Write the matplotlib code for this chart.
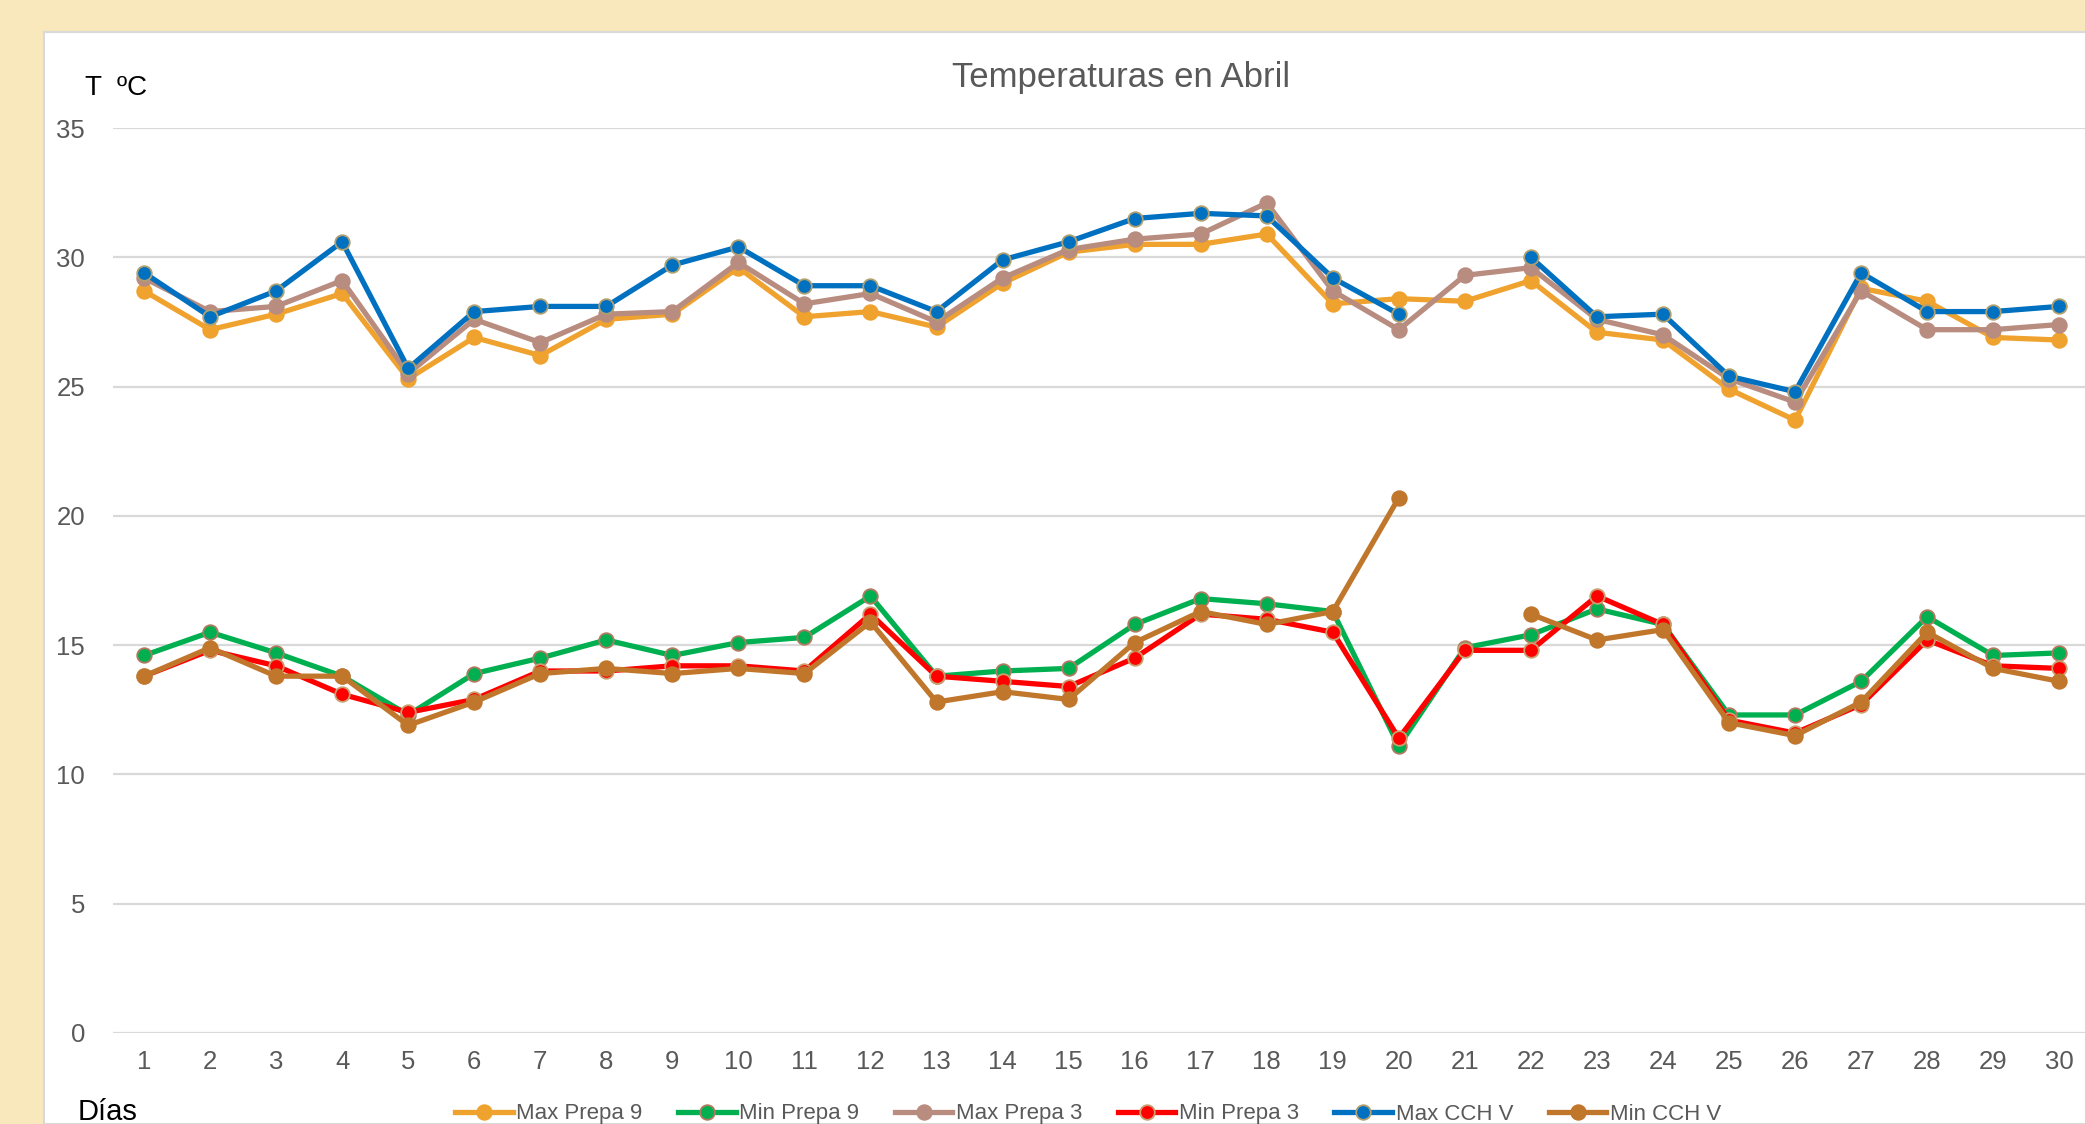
import matplotlib.pyplot as plt
import matplotlib.patches as patches
import numpy as np

nan = np.nan
dias = list(range(1, 31))

max_prepa9 = [28.7, 27.2, 27.8, 28.6, 25.3, 26.9, 26.2, 27.6, 27.8, 29.6,
              27.7, 27.9, 27.3, 29.0, 30.2, 30.5, 30.5, 30.9, 28.2, 28.4,
              28.3, 29.1, 27.1, 26.8, 24.9, 23.7, 28.8, 28.3, 26.9, 26.8]
min_prepa9 = [14.6, 15.5, 14.7, 13.8, 12.3, 13.9, 14.5, 15.2, 14.6, 15.1,
              15.3, 16.9, 13.8, 14.0, 14.1, 15.8, 16.8, 16.6, 16.3, 11.1,
              14.9, 15.4, 16.4, 15.8, 12.3, 12.3, 13.6, 16.1, 14.6, 14.7]
max_prepa3 = [29.2, 27.9, 28.1, 29.1, 25.5, 27.6, 26.7, 27.8, 27.9, 29.8,
              28.2, 28.6, 27.5, 29.2, 30.3, 30.7, 30.9, 32.1, 28.7, 27.2,
              29.3, 29.6, 27.6, 27.0, 25.3, 24.4, 28.7, 27.2, 27.2, 27.4]
min_prepa3 = [13.8, 14.8, 14.2, 13.1, 12.4, 12.9, 14.0, 14.0, 14.2, 14.2,
              14.0, 16.2, 13.8, 13.6, 13.4, 14.5, 16.2, 16.0, 15.5, 11.4,
              14.8, 14.8, 16.9, 15.8, 12.1, 11.6, 12.7, 15.2, 14.2, 14.1]
max_cchv = [29.4, 27.7, 28.7, 30.6, 25.7, 27.9, 28.1, 28.1, 29.7, 30.4,
            28.9, 28.9, 27.9, 29.9, 30.6, 31.5, 31.7, 31.6, 29.2, 27.8,
            nan, 30.0, 27.7, 27.8, 25.4, 24.8, 29.4, 27.9, 27.9, 28.1]
min_cchv = [13.8, 14.9, 13.8, 13.8, 11.9, 12.8, 13.9, 14.1, 13.9, 14.1,
            13.9, 15.9, 12.8, 13.2, 12.9, 15.1, 16.3, 15.8, 16.3, 20.7,
            nan, 16.2, 15.2, 15.6, 12.0, 11.5, 12.8, 15.5, 14.1, 13.6]

series = [
    ('Max Prepa 9', max_prepa9, '#F0A22E', '#F0A22E'),
    ('Min Prepa 9', min_prepa9, '#00B050', '#B07A60'),
    ('Max Prepa 3', max_prepa3, '#B98C80', '#B98C80'),
    ('Min Prepa 3', min_prepa3, '#FF0000', '#C8A070'),
    ('Max CCH V', max_cchv, '#0070C0', '#B0A070'),
    ('Min CCH V', min_cchv, '#C0772C', '#C0772C'),
]

W, H = 2085, 1124
fig = plt.figure(figsize=(W / 100, H / 100), dpi=100)
fig.patch.set_facecolor('#F8E8BC')

# white chart panel
fig.add_artist(patches.Rectangle((44 / W, 0), 1, 1 - 32 / H, transform=fig.transFigure,
                                 facecolor='white', edgecolor='#d9d9d9', lw=1.5, zorder=0))

ax = fig.add_axes([113 / W, 1 - 1033 / H, 1 - 113 / W, (1033 - 128) / H])
ax.set_facecolor('none')

for name, vals, col, edge in series:
    ax.plot(dias, vals, color=col, lw=3.8, marker='o', markersize=10.5,
            markerfacecolor=col, markeredgecolor=edge, markeredgewidth=1.3,
            label=name, zorder=3)

ax.set_xlim(0.53, 30.39)
ax.set_ylim(0, 35)
ax.set_yticks(range(0, 36, 5))
ax.set_xticks(dias)
ax.grid(axis='y', color='#d9d9d9', lw=1.6)
ax.set_axisbelow(True)
for s in ax.spines.values():
    s.set_visible(False)
ax.tick_params(length=0, labelsize=18.5, labelcolor='#595959', pad=12)
ax.tick_params(axis='y', pad=20)
for lab in ax.get_xticklabels() + ax.get_yticklabels():
    lab.set_family('Liberation Sans')

fig.text(1121 / W, 1 - 77 / H, 'Temperaturas en Abril', ha='center', va='center',
         fontsize=25, color='#595959', family='Liberation Sans')
fig.text(85 / W, 1 - 88 / H, 'T  ºC', ha='left', va='center', fontsize=20,
         color='black', family='Liberation Sans')
fig.text(78 / W, 1 - 1112 / H, 'Días', ha='left', va='center', fontsize=21,
         color='black', family='Liberation Sans')

leg = fig.legend(loc='center', bbox_to_anchor=(1088 / W, 1 - 1114 / H), ncol=6,
                 frameon=False, handlelength=2.6, handletextpad=0.15, columnspacing=1.6,
                 prop={'family': 'Liberation Sans', 'size': 16})
for t in leg.get_texts():
    t.set_color('#595959')

fig.savefig('out.png', dpi=100, facecolor=fig.get_facecolor())
